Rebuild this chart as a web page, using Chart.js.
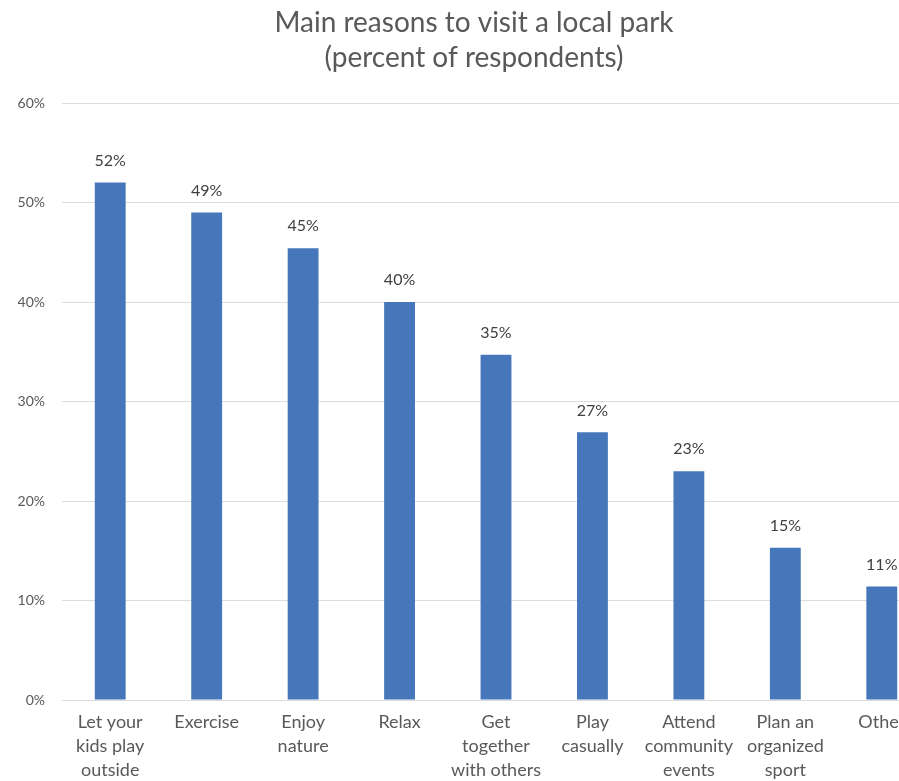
<!DOCTYPE html>
<html>
<head>
<meta charset="utf-8">
<script src="https://cdn.jsdelivr.net/npm/chart.js@4.4.0/dist/chart.umd.min.js"></script>
<style>
  html, body { margin: 0; padding: 0; background: #fff; overflow: hidden; }
  #wrap { width: 934px; height: 781px; }
</style>
</head>
<body>
<div id="wrap"><canvas id="parkChart" width="934" height="781"></canvas></div>
<script>
// Dados do gráfico
const categorias = [
  ["Let your", "kids play", "outside"],
  "Exercise",
  ["Enjoy", "nature"],
  "Relax",
  ["Get", "together", "with others"],
  ["Play", "casually"],
  ["Attend", "community", "events"],
  ["Plan an", "organized", "sport"],
  "Other"
];
const percentuais = [52, 49, 45.4, 40, 34.7, 26.9, 23, 15.3, 11.4];
const ticksY = [0, 10, 20, 30, 40, 50, 60];
const titulo = ["Main reasons to visit a local park", "(percent of respondents)"];

const fonte = "Lato, 'Open Sans', sans-serif";

// Rótulos em cima das barras
const rotulosPlugin = {
  id: "rotulos",
  afterDatasetsDraw(chart) {
    const ctx = chart.ctx;
    const meta = chart.getDatasetMeta(0);
    ctx.save();
    ctx.font = "16px " + fonte;
    ctx.fillStyle = "#404040";
    ctx.textAlign = "center";
    ctx.textBaseline = "middle";
    meta.data.forEach((bar, i) => {
      ctx.fillText(Math.round(percentuais[i]) + "%", bar.x, bar.y - 22);
    });
    ctx.restore();
  }
};

const ctx = document.getElementById("parkChart").getContext("2d");
window.parkChart = new Chart(ctx, {
  type: "bar",
  data: {
    labels: categorias,
    datasets: [{
      data: percentuais,
      backgroundColor: "#4677bb",
      borderWidth: 0,
      categoryPercentage: 1,
      barPercentage: 0.32
    }]
  },
  options: {
    responsive: false,
    animation: false,
    layout: { padding: { left: 18, right: 4, top: 0, bottom: 0 } },
    plugins: {
      legend: { display: false },
      tooltip: { enabled: false },
      title: {
        display: true,
        text: titulo,
        color: "#595959",
        font: { family: fonte, size: 28, weight: "normal", lineHeight: 1.25 },
        padding: { top: 5, bottom: 28 }
      }
    },
    scales: {
      x: {
        grid: { display: false },
        border: { display: false },
        afterFit(axis) { axis.height = 81; },
        ticks: {
          color: "#595959",
          font: { family: fonte, size: 18, lineHeight: 1.33 },
          maxRotation: 0,
          autoSkip: false,
          padding: 2
        }
      },
      y: {
        min: 0,
        max: 60,
        afterBuildTicks(axis) {
          axis.ticks = ticksY.map(v => ({ value: v }));
        },
        afterFit(axis) { axis.width = 44; },
        grid: { color: "#dcdcdc", lineWidth: 1, drawTicks: false },
        border: { display: false },
        ticks: {
          color: "#595959",
          font: { family: fonte, size: 14 },
          padding: 17,
          callback: v => v + "%"
        }
      }
    }
  },
  plugins: [rotulosPlugin]
});
</script>
</body>
</html>
